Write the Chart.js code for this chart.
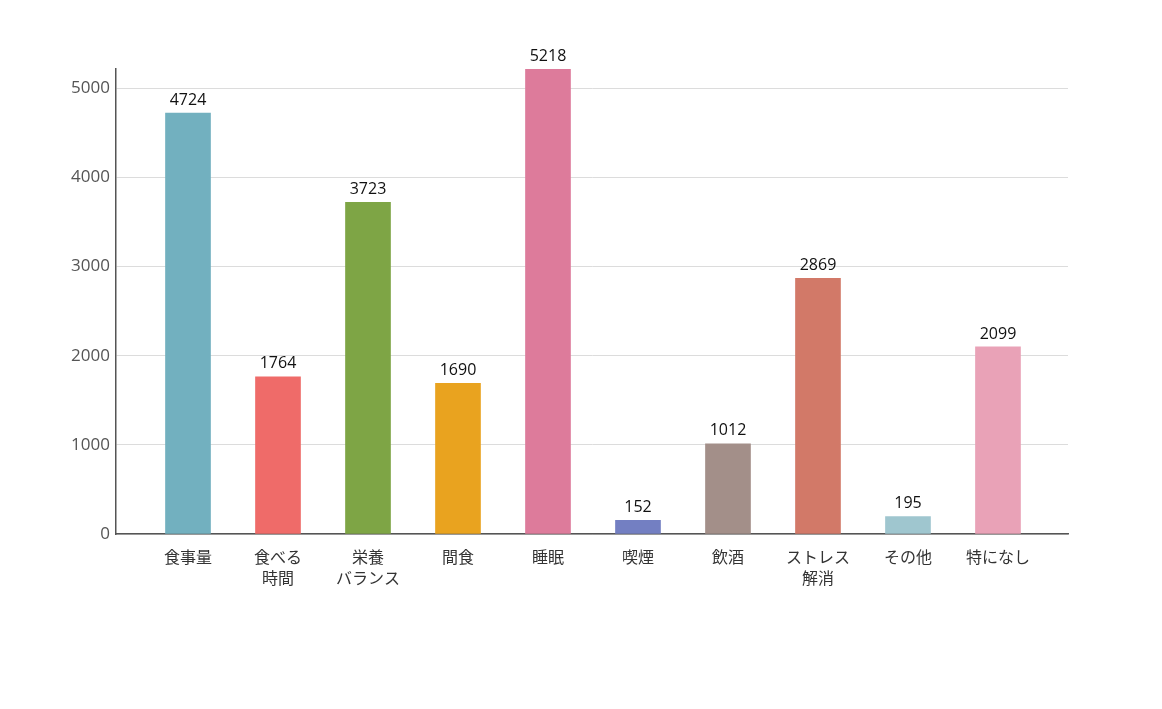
<!DOCTYPE html>
<html>
<head>
<meta charset="utf-8">
<script src="https://cdn.jsdelivr.net/npm/chart.js@4.4.1/dist/chart.umd.min.js"></script>
<style>
html,body{margin:0;padding:0;background:#fff;}
#c{display:block;}
</style>
</head>
<body>
<canvas id="c" width="1162" height="709"></canvas>
<script>
const categories = [
  '食事量', ['食べる','時間'], ['栄養','バランス'], '間食', '睡眠',
  '喫煙', '飲酒', ['ストレス','解消'], 'その他', '特になし'
];
const values = [4724, 1764, 3723, 1690, 5218, 152, 1012, 2869, 195, 2099];
const barColors = ['#72b0bf','#ef6b69','#7ea545','#e9a31f','#dd7b9b','#737fc2','#a38f89','#d27968','#9fc6cf','#e9a2b7'];
const yTickStep = 1000;

const valueLabels = {
  id: 'valueLabels',
  afterDatasetsDraw(chart) {
    const ctx = chart.ctx;
    const meta = chart.getDatasetMeta(0);
    ctx.save();
    ctx.font = '16px "Open Sans", sans-serif';
    ctx.fillStyle = '#111';
    ctx.textAlign = 'center';
    ctx.textBaseline = 'bottom';
    meta.data.forEach((bar, i) => {
      ctx.fillText(String(values[i]), bar.x, bar.y - 5);
    });
    ctx.restore();
  }
};

new Chart(document.getElementById('c'), {
  type: 'bar',
  data: {
    datasets: [{
      data: values.map((v, i) => ({x: i, y: v})),
      backgroundColor: barColors,
      borderWidth: 0,
      barThickness: 45
    }]
  },
  options: {
    responsive: false,
    animation: false,
    events: [],
    layout: {padding: {left: 0, top: 69, right: 94, bottom: 0}},
    plugins: {legend: {display: false}, tooltip: {enabled: false}},
    scales: {
      x: {
        type: 'linear',
        offset: false,
        min: -0.8,
        max: categories.length - 1 + 0.778,
        grid: {display: false, drawTicks: false},
        border: {display: true, color: '#555', width: 1.5},
        ticks: {
          stepSize: 1,
          includeBounds: false,
          autoSkip: false,
          maxRotation: 0,
          padding: 12,
          color: '#333',
          font: {family: '"Noto Sans CJK JP", sans-serif', size: 16, lineHeight: 1.33},
          callback: (v) => categories[v]
        },
        afterFit: (s) => { s.height = 175; }
      },
      y: {
        min: 0,
        grid: {color: '#dcdcdc', lineWidth: 1, drawTicks: false},
        border: {display: true, color: '#555', width: 1.5},
        ticks: {
          stepSize: yTickStep,
          padding: 6,
          color: '#555',
          font: {family: '"Open Sans", sans-serif', size: 17},
          callback: (v) => String(v)
        },
        afterBuildTicks: (s) => {
          s.max = Math.max(...values);
          s.ticks = s.ticks.filter(t => t.value <= s.max);
        },
        afterFit: (s) => { s.width = 116; }
      }
    }
  },
  plugins: [valueLabels]
});
</script>
</body>
</html>
